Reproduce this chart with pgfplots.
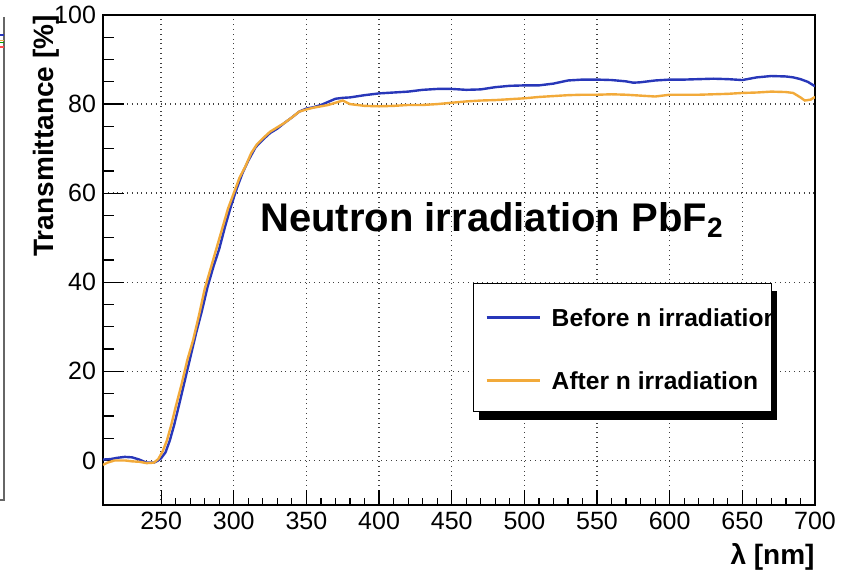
\documentclass[border=0pt]{standalone}
\usepackage{fontspec}
\setmainfont{Liberation Sans}
\usepackage{pgfplots}
\pgfplotsset{compat=1.18}
\usetikzlibrary{shadows}
\definecolor{cblue}{RGB}{40,55,185}
\definecolor{corange}{RGB}{242,170,58}
\begin{document}
\begin{tikzpicture}
% fragment of neighbouring panel at the left edge
\draw[line width=0.6pt, black!60] (2pt,278.5pt) -- (2pt,37pt) -- (0pt,37pt);
\draw[line width=0.7pt, cblue] (0pt,269.5pt) -- (2pt,269.5pt);
\draw[line width=0.7pt, corange] (0pt,266.8pt) -- (2pt,266.8pt);
\draw[line width=0.7pt, green!60!black] (0pt,265.6pt) -- (2pt,265.6pt);
\draw[line width=0.7pt, red!70] (0pt,263.5pt) -- (2pt,263.5pt);
\begin{axis}[
  at={(51.5pt,34.5pt)}, anchor=south west,
  scale only axis, width=356pt, height=245pt,
  xmin=210, xmax=700, ymin=-10, ymax=100,
  xtick={250,300,...,700}, ytick={0,20,...,100},
  minor x tick num=4, minor y tick num=3,
  xtick pos=bottom, ytick pos=left, tick align=inside,
  xtick style={/pgfplots/major tick length=7.5pt,/pgfplots/minor tick length=3.7pt, black, line width=0.6pt},
  ytick style={/pgfplots/major tick length=10.5pt,/pgfplots/minor tick length=5.3pt, black, line width=0.6pt},
  grid=major, grid style={dotted, line width=0.7pt, black!75},
  axis line style={line width=0.6pt, black},
  /pgf/number format/assume math mode=true,
  ticklabel style={font=\fontsize{12.5}{14}\selectfont},
  xlabel={\textbf{λ [nm]}},
  xlabel style={font=\fontsize{14}{16}\selectfont, at={(rel axis cs:1,0)}, anchor=base east, inner sep=0pt, yshift=-30pt},
  ylabel={\textbf{Transmittance [\%]}},
  ylabel style={font=\fontsize{14}{16}\selectfont, at={(rel axis cs:-0.069,1)}, anchor=base east, inner sep=0pt},
  legend style={at={(rel axis cs:0.521,0.453)}, anchor=north west, draw=none, fill=none,
    inner xsep=5.5pt, inner ysep=12.5pt, row sep=22.5pt,
    font=\bfseries\fontsize{12.3}{15}\selectfont,
    nodes={inner sep=0pt, text height=9pt, text depth=0pt},
    /tikz/every odd column/.append style={column sep=5.5pt}},
  legend cell align=left,
  legend image code/.code={\draw[#1] (0pt,0pt) -- (26.5pt,0pt);},
]
\addplot[cblue, line width=1.2pt] coordinates {
(210,0.2) (215,0.3) (220,0.6) (225,0.8) (230,0.7) (235,0.2) (240,-0.5) (245,-0.5)
(248,0.0) (250,0.5) (253,1.8) (256,4.5) (259,8) (262,12) (266,17.5) (270,23)
(274,28.5) (278,33.5) (282,39) (286,43.5) (290,47.5) (294,52.5) (298,57) (302,61)
(306,64.5) (310,67.3) (315,70.3) (320,72) (325,73.5) (330,74.5) (335,75.8) (340,77)
(345,78.3) (350,79) (355,79.3) (360,79.8) (365,80.5) (370,81.2) (375,81.4) (380,81.5)
(390,82) (400,82.4) (410,82.6) (420,82.8) (430,83.2) (440,83.4) (450,83.4) (460,83.2)
(470,83.3) (480,83.8) (490,84.1) (500,84.2) (510,84.2) (520,84.6) (530,85.3) (540,85.5)
(550,85.5) (560,85.4) (570,85.1) (575,84.8) (580,84.9) (590,85.3) (600,85.5) (610,85.5)
(620,85.6) (630,85.7) (640,85.6) (650,85.4) (655,85.7) (660,86.0) (670,86.3) (680,86.2)
(685,86.0) (690,85.6) (695,85.0) (700,84.0)
};
\addlegendentry{Before n irradiation}
\addplot[corange, line width=1.2pt] coordinates {
(210,-1.0) (213,-0.5) (218,0.0) (225,0.0) (230,-0.2) (235,-0.3) (240,-0.6) (245,-0.5)
(248,0.3) (251,2.0) (254,4.5) (257,8) (260,12) (264,17) (268,22.5) (272,27)
(276,32.5) (280,38.5) (284,43) (288,47.5) (292,52) (296,56.5) (300,60) (304,63.5)
(308,66) (312,69) (316,71) (320,72.3) (325,73.8) (330,74.8) (335,75.8) (340,77)
(345,78.3) (350,78.8) (355,79.2) (360,79.5) (365,79.8) (370,80.3) (375,80.8) (380,80.0)
(390,79.6) (400,79.5) (410,79.6) (420,79.8) (430,79.8) (440,80.0) (450,80.3) (460,80.6)
(470,80.8) (480,80.9) (490,81.1) (500,81.3) (510,81.6) (520,81.8) (530,82.0) (540,82.1)
(550,82.1) (560,82.2) (570,82.1) (580,81.9) (590,81.7) (600,82.1) (610,82.1) (620,82.1)
(630,82.2) (640,82.3) (650,82.5) (660,82.6) (670,82.8) (680,82.7) (685,82.5) (690,81.5)
(693,80.8) (697,81.0) (700,81.6)
};
\addlegendentry{After n irradiation}
\draw[line width=0.5pt, black, fill=white, drop shadow={shadow xshift=2.5pt, shadow yshift=-4pt, fill=black, opacity=1}]
  (rel axis cs:0.521,0.190) rectangle (rel axis cs:0.9396,0.453);
\node[anchor=base west, inner sep=0pt, font=\bfseries\fontsize{20}{23}\selectfont]
  at (rel axis cs:0.2205,0.558) {Neutron irradiation PbF\textsubscript{2}};
\end{axis}
\pgfresetboundingbox
\path (0pt,0pt) rectangle (424pt,287pt);
\end{tikzpicture}
\end{document}
